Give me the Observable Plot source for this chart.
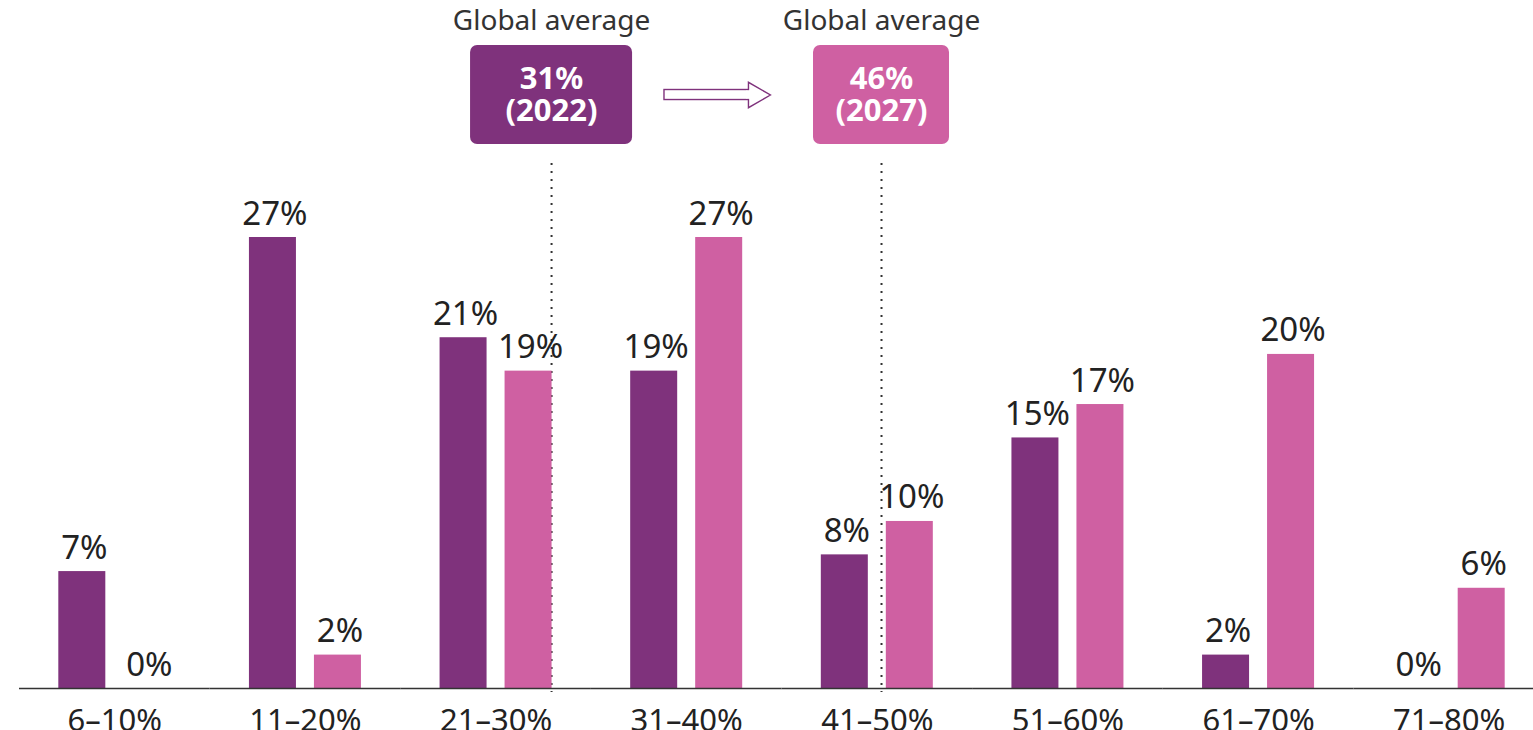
<!DOCTYPE html>
<html><head><meta charset="utf-8">
<script src="https://cdn.jsdelivr.net/npm/d3@7"></script>
<script src="https://cdn.jsdelivr.net/npm/@observablehq/plot@0.6"></script>
<style>
html,body{margin:0;padding:0;background:#fff;overflow:hidden;width:1533px;height:730px;}
#chart{width:1544px;height:730px;overflow:hidden;}
#chart svg{max-width:none !important;}
</style></head><body><div id="chart"></div>
<script>
// ---- data ----
const categories = ["6–10%","11–20%","21–30%","31–40%","41–50%","51–60%","61–70%","71–80%"];
const seriesNames = ["2022","2027"];
const values2022 = [7,27,21,19,8,15,2,0];
const values2027 = [0,2,19,27,10,17,20,6];
const seriesColors = ["#7f327c","#cf60a2"];
const avgTitle = "Global average";
const avgValues = ["31%","46%"];
const avgYears = ["(2022)","(2027)"];
const avgCategories = ["21–30%","41–50%"];

const data = categories.flatMap((c, i) => [
  {cat: c, series: seriesNames[0], value: values2022[i]},
  {cat: c, series: seriesNames[1], value: values2027[i]}
]);

const FONT = "'Noto Sans', sans-serif";
const purple = seriesColors[0], pink = seriesColors[1];

// annotation anchors (category + series band within that facet)
const a1 = [{cat: avgCategories[0], series: "2027", label: `${avgValues[0]}\n${avgYears[0]}`}];
const a2 = [{cat: avgCategories[1], series: "2022", label: `${avgValues[1]}\n${avgYears[1]}`}];
const arrowAnchor = [{cat: "31–40%", series: "2027"}];

const dotted = {stroke: "#333", strokeWidth: 2, strokeDasharray: "2,6", insetBottom: -4};

const chart = Plot.plot({
  width: 1544,
  height: 730,
  marginLeft: 19,
  marginRight: 0,
  marginTop: 163,
  marginBottom: 42,
  style: {fontFamily: FONT, fontSize: "28px", color: "#222", background: "#fff"},
  fx: {domain: categories, padding: 0, round: false, axis: null, label: null},
  x: {domain: seriesNames, paddingInner: 0.2769, paddingOuter: 0.6048, round: false, axis: null},
  y: {domain: [0, 27], range: [688, 237], axis: null},
  color: {domain: seriesNames, range: seriesColors},
  marks: [
    Plot.axisFx({anchor: "bottom", tickSize: 0, tickPadding: 20, label: null, fontSize: 31, fill: "#222"}),
    // dotted average lines
    Plot.ruleX(a1, {fx: "cat", x: "series", dx: 23, ...dotted}),
    Plot.ruleX(a2, {fx: "cat", x: "series", dx: 36.7, ...dotted}),
    // bars
    Plot.barY(data, {fx: "cat", x: "series", y: "value", fill: "series"}),
    Plot.ruleY([0], {stroke: "#333", strokeWidth: 1.5}),
    // value labels
    Plot.text(data, {fx: "cat", x: "series", y: "value", text: d => `${d.value}%`,
      lineAnchor: "bottom", dy: -13, dx: 2, fontSize: 33, fill: "#222"}),
    // "Global average" titles
    Plot.text(a1, {fx: "cat", x: "series", y: 39.93, dx: 23, text: () => avgTitle, lineAnchor: "middle", fontSize: 28, fill: "#333"}),
    Plot.text(a2, {fx: "cat", x: "series", y: 39.93, dx: 36.7, text: () => avgTitle, lineAnchor: "middle", fontSize: 28, fill: "#333"}),
    // boxes
    Plot.barY(a1, {fx: "cat", x: "series", y1: 32.57, y2: 38.49, dx: 23, insetLeft: -57.5, insetRight: -57.5, rx: 7, fill: purple}),
    Plot.barY(a2, {fx: "cat", x: "series", y1: 32.57, y2: 38.49, dx: 36.7, insetLeft: -44.5, insetRight: -44.5, rx: 7, fill: pink}),
    Plot.text(a1, {fx: "cat", x: "series", y: 35.53, dx: 23, text: "label", lineAnchor: "middle", lineHeight: 1.02, fontSize: 31, fontWeight: "bold", fill: "#fff"}),
    Plot.text(a2, {fx: "cat", x: "series", y: 35.53, dx: 36.7, text: "label", lineAnchor: "middle", lineHeight: 1.02, fontSize: 31, fontWeight: "bold", fill: "#fff"}),
    // hollow arrow
    Plot.barY(arrowAnchor, {fx: "cat", x: "series", y1: 35.23, y2: 35.83, dx: -12.7, insetLeft: -18.5, insetRight: -18.5, fill: "#fff", stroke: purple, strokeWidth: 1.4}),
    Plot.dot(arrowAnchor, {fx: "cat", x: "series", y: 35.53, dx: 36.6, symbol: "triangle", rotate: 90, r: 9.43, fill: "#fff", stroke: purple, strokeWidth: 1.4}),
    Plot.barY(arrowAnchor, {fx: "cat", x: "series", y1: 35.27, y2: 35.79, dx: 29.55, insetLeft: 21.75, insetRight: 21.75, fill: "#fff"})
  ]
});
document.getElementById("chart").appendChild(chart);
</script></body></html>
